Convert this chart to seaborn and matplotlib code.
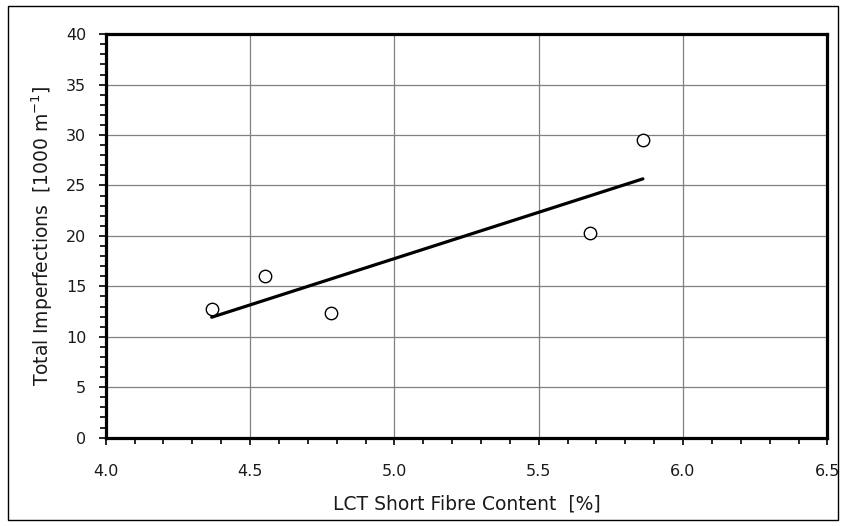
import matplotlib
matplotlib.use("Agg")
import matplotlib.pyplot as plt
import seaborn as sns
import pandas as pd
from matplotlib.ticker import MultipleLocator
from matplotlib.patches import Rectangle

sns.set_theme(style="white")
plt.rcParams['font.family'] = ['DejaVu Sans']

short_fibre = [4.367, 4.55, 4.781, 5.679, 5.861]
imperfections = [12.73, 16.03, 12.33, 20.33, 29.52]
x_ticks = [4.0, 4.5, 5.0, 5.5, 6.0, 6.5]
y_ticks = [0, 5, 10, 15, 20, 25, 30, 35, 40]

df = pd.DataFrame({"x": short_fibre, "y": imperfections})

fig = plt.figure(figsize=(8.46, 5.26), dpi=100)
ax = fig.add_axes([0.125, 0.168, 0.853, 0.767])

sns.regplot(data=df, x="x", y="y", ax=ax, ci=None, truncate=True,
            scatter=False, line_kws=dict(color="black", lw=2.3, zorder=3))
sns.scatterplot(data=df, x="x", y="y", ax=ax, s=80, color="white",
                edgecolor="black", linewidth=1.0, zorder=4)

ax.set_xlim(4.0, 6.5)
ax.set_ylim(0, 40)
ax.set_xticks(x_ticks)
ax.set_xticklabels([f"{v:.1f}" for v in x_ticks])
ax.set_yticks(y_ticks)
ax.xaxis.set_minor_locator(MultipleLocator(0.1))
ax.yaxis.set_minor_locator(MultipleLocator(1))
ax.grid(True, which="major", color="#808080", lw=0.9)
ax.set_axisbelow(True)

for s in ax.spines.values():
    s.set_visible(True)
    s.set_color("black")
    s.set_linewidth(2.3)

ax.tick_params(which="both", direction="out", color="black", width=1.2,
               bottom=True, left=True, top=False, right=False)
ax.tick_params(which="major", length=5)
ax.tick_params(which="minor", length=4)
ax.tick_params(axis="x", which="major", pad=14, labelsize=11.5, labelcolor="#1a1a1a")
ax.tick_params(axis="y", which="major", pad=9, labelsize=11.5, labelcolor="#1a1a1a")

ax.set_xlabel("LCT Short Fibre Content  [%]", fontsize=13.5, labelpad=11, color="#1a1a1a")
ax.set_ylabel("Total Imperfections  [1000 m$^{\\mathregular{-1}}$]", fontsize=13.5,
              labelpad=8, color="#1a1a1a")

fig.patches.append(Rectangle((8 / 846, 6 / 526), 830 / 846, 514 / 526,
                             transform=fig.transFigure, fill=False,
                             edgecolor="black", lw=1.0))

fig.savefig("out.png", dpi=100)
